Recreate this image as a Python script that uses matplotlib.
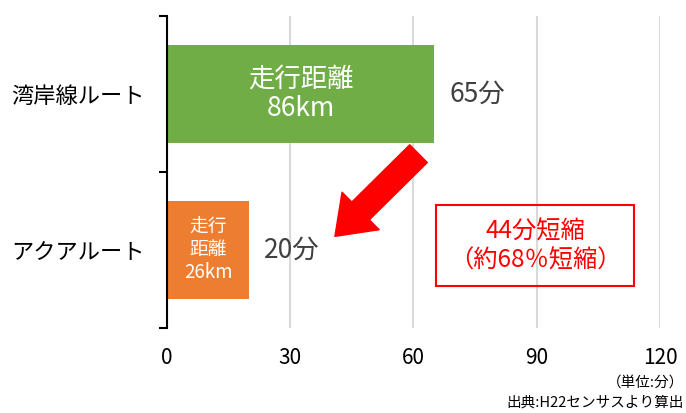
import matplotlib.pyplot as plt
from matplotlib.patches import FancyArrowPatch, Rectangle

plt.rcParams['font.family'] = ['Noto Sans CJK JP', 'DejaVu Sans']

# data
routes = ['湾岸線ルート', 'アクアルート']
minutes = [65, 20]
bar_colors = ['#70AD47', '#ED7D31']
inner_labels = ['走行距離\n86km', '走行\n距離\n26km']
inner_sizes = [19, 13.5]
xticks = [0, 30, 60, 90, 120]

fig = plt.figure(figsize=(6.86, 4.13), dpi=100)
ax = fig.add_axes([0.2434, 0.2058, 0.7187, 0.7555])

ypos = list(range(len(routes)))
ax.barh(ypos, minutes, height=0.63, color=bar_colors, zorder=3)

for y, v, lab, fs in zip(ypos, minutes, inner_labels, inner_sizes):
    ax.text(v / 2, y, lab, color='white', fontsize=fs, ha='center', va='center',
            linespacing=1.1, zorder=4)
    ax.annotate(f'{v}分', xy=(v, y), xytext=(11, 0), textcoords='offset points',
                fontsize=19, color='#404040', ha='left', va='center')

ax.set_xlim(0, 120)
ax.set_ylim(1.5, -0.5)
ax.set_xticks(xticks)
ax.set_xticklabels([str(t) for t in xticks], fontsize=15)
ax.tick_params(axis='x', length=0, pad=14)
ax.grid(axis='x', color='#D9D9D9', linewidth=1.5, zorder=0)

ax.set_yticks(ypos)
ax.set_yticklabels(routes, fontsize=16)
ax.set_yticks([-0.5, 0.5, 1.5], minor=True)
ax.tick_params(axis='y', which='major', length=0, pad=16)
ax.tick_params(axis='y', which='minor', length=6, width=1.5)

for s in ['top', 'right', 'bottom']:
    ax.spines[s].set_visible(False)
ax.spines['left'].set_linewidth(1.5)
ax.spines['left'].set_zorder(5)

# big red arrow
arrow = FancyArrowPatch((61.7, 0.37), (40.4, 0.925),
                        arrowstyle='simple,head_length=2.6,head_width=3.8,tail_width=1.8',
                        mutation_scale=10, color='#FF0000', zorder=6)
ax.add_patch(arrow)

# reduction box
box = Rectangle((436 / 686, 1 - 286 / 413), 198 / 686, 81 / 413,
                transform=fig.transFigure, fill=False, edgecolor='#FF0000', linewidth=1.5)
fig.patches.append(box)
fig.text(535 / 686, 1 - 246 / 413, '44分短縮\n（約68％短縮）', color='#FF0000', fontsize=17.5,
         ha='center', va='center', linespacing=1.15)

fig.text(684 / 686, 1 - 383 / 413, '（単位:分）', fontsize=10.5, ha='right', va='center')
fig.text(684 / 686, 1 - 403 / 413, '出典:H22センサスより算出', fontsize=10.5, ha='right', va='center')

fig.savefig('out.png', dpi=100)
